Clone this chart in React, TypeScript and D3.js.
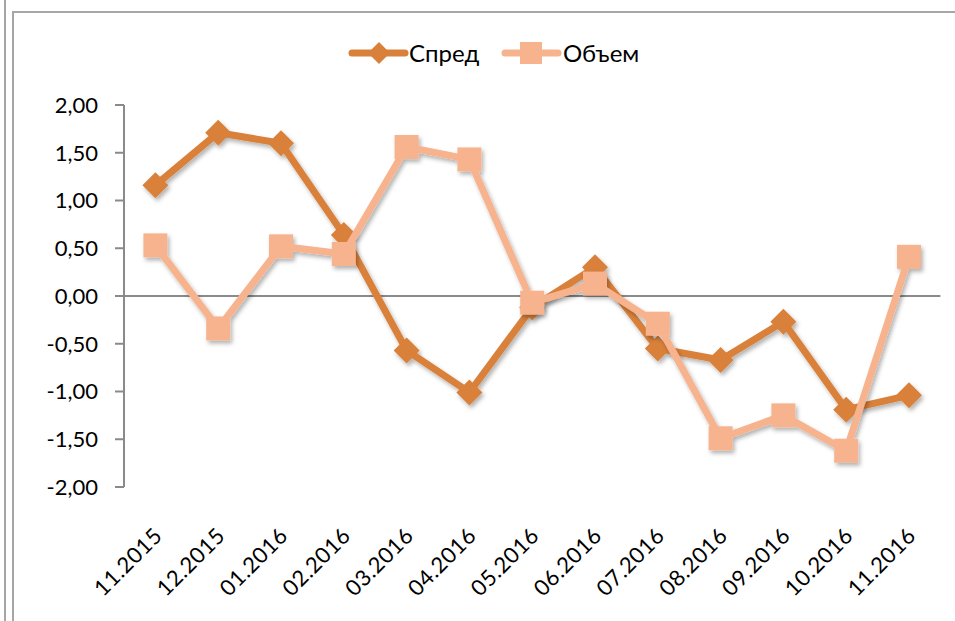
import * as d3 from "d3";

const categories = [
  "11.2015", "12.2015", "01.2016", "02.2016", "03.2016", "04.2016", "05.2016",
  "06.2016", "07.2016", "08.2016", "09.2016", "10.2016", "11.2016",
];
const spread = [1.16, 1.71, 1.6, 0.64, -0.57, -1.01, -0.12, 0.3, -0.55, -0.67, -0.27, -1.19, -1.04];
const volume = [0.53, -0.34, 0.52, 0.44, 1.56, 1.43, -0.07, 0.13, -0.29, -1.49, -1.25, -1.62, 0.41];
const yTicks = [2, 1.5, 1, 0.5, 0, -0.5, -1, -1.5, -2];

const W = 955;
const H = 621;
const FONT = "Lato, 'Open Sans', sans-serif";
const SPREAD_COLOR = "#d9813a";
const VOLUME_COLOR = "#f6b38d";
const AXIS_COLOR = "#8a8a8a";

const fmt = (v: number) => v.toFixed(2).replace(".", ",");

export default function App() {
  const x = d3.scaleBand().domain(categories).range([124, 940.4]);
  const y = d3.scaleLinear().domain([-2, 2]).range([487, 105]);
  const cx = (c: string) => x(c)! + x.bandwidth() / 2;

  const line = d3
    .line<number>()
    .x((_, i) => cx(categories[i]))
    .y((d) => y(d));

  const diamond = 13;
  const sq = 12;

  return (
    <div style={{ position: "absolute", left: 0, top: 0 }}>
      <svg width={W} height={H} style={{ display: "block", background: "#fff" }}>
        <defs>
          <filter id="shadow" x="-20%" y="-20%" width="140%" height="140%">
            <feDropShadow dx="2" dy="3" stdDeviation="2" floodColor="#000" floodOpacity="0.3" />
          </filter>
        </defs>

        {/* frame */}
        <line x1={5} x2={5} y1={0} y2={H} stroke="#a6a6a6" strokeWidth={2} />
        <line x1={13} x2={13} y1={12} y2={H} stroke="#a6a6a6" strokeWidth={2} />
        <line x1={12} x2={W} y1={12} y2={12} stroke="#a6a6a6" strokeWidth={2} />

        {/* y axis */}
        <line x1={124} x2={124} y1={y(2)} y2={y(-2)} stroke={AXIS_COLOR} strokeWidth={2} />
        {yTicks.map((t) => (
          <g key={t}>
            <line x1={115} x2={124} y1={y(t)} y2={y(t)} stroke={AXIS_COLOR} strokeWidth={2} />
            <text
              x={98}
              y={y(t)}
              dy="0.36em"
              textAnchor="end"
              fontFamily={FONT}
              fontSize={22}
              fill="#000"
            >
              {fmt(t)}
            </text>
          </g>
        ))}
        <line x1={124} x2={940.4} y1={y(0)} y2={y(0)} stroke={AXIS_COLOR} strokeWidth={2} />

        {/* x labels */}
        {categories.map((c) => (
          <text
            key={c}
            transform={`translate(${cx(c) - 3},${526}) rotate(-45)`}
            dy="0.72em"
            textAnchor="end"
            fontFamily={FONT}
            fontSize={22}
            letterSpacing={0.5}
            fill="#000"
          >
            {c}
          </text>
        ))}

        {/* Спред */}
        <g filter="url(#shadow)">
          <path d={line(spread)!} fill="none" stroke={SPREAD_COLOR} strokeWidth={7} strokeLinejoin="round" />
          {spread.map((v, i) => (
            <path
              key={i}
              d={`M${cx(categories[i])},${y(v) - diamond} l${diamond},${diamond} l${-diamond},${diamond} l${-diamond},${-diamond}Z`}
              fill={SPREAD_COLOR}
            />
          ))}
        </g>

        {/* Объем */}
        <g filter="url(#shadow)">
          <path d={line(volume)!} fill="none" stroke={VOLUME_COLOR} strokeWidth={7} strokeLinejoin="round" />
          {volume.map((v, i) => (
            <rect
              key={i}
              x={cx(categories[i]) - sq}
              y={y(v) - sq}
              width={sq * 2}
              height={sq * 2}
              fill={VOLUME_COLOR}
            />
          ))}
        </g>

        {/* legend */}
        <g fontFamily={FONT} fontSize={24} fill="#000">
          <line x1={352} x2={405} y1={53} y2={53} stroke={SPREAD_COLOR} strokeWidth={7} strokeLinecap="round" />
          <path d={`M379,${53 - 11} l11,11 l-11,11 l-11,-11Z`} fill={SPREAD_COLOR} />
          <text x={409} y={53} dy="0.36em">Спред</text>
          <line x1={505} x2={558} y1={53} y2={53} stroke={VOLUME_COLOR} strokeWidth={7} strokeLinecap="round" />
          <rect x={531 - 11} y={53 - 11} width={22} height={22} fill={VOLUME_COLOR} />
          <text x={563} y={53} dy="0.36em">Объем</text>
        </g>
      </svg>
    </div>
  );
}
